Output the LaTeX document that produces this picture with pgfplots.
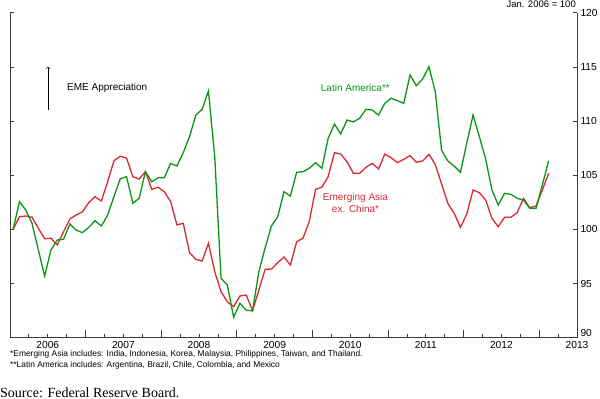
\documentclass[border=0pt]{standalone}
\usepackage{fontspec}
\setmainfont{Liberation Sans}
\newfontfamily\seriffont{Liberation Serif}
\usepackage{pgfplots}
\pgfplotsset{compat=1.18}
\usepackage{pgfplotstable}
\definecolor{lagreen}{RGB}{10,150,20}
\definecolor{asred}{RGB}{220,40,50}
\definecolor{axgray}{RGB}{60,60,60}

% Latin America (m = months since Jan 2006)
\pgfplotstableread{
m v
0 100.00
1 102.56
2 101.79
3 100.56
4 98.10
5 95.70
6 98.10
7 99.02
8 99.09
9 100.50
10 99.94
11 99.70
12 100.19
13 100.80
14 100.31
15 101.33
16 103.02
17 104.67
18 104.87
19 102.41
20 102.87
21 105.33
22 104.40
23 104.77
24 104.77
25 106.10
26 105.85
27 107.08
28 108.56
29 110.56
30 111.09
31 112.78
32 106.71
33 95.48
34 94.87
35 91.88
36 93.18
37 92.53
38 92.49
39 96.09
40 98.30
41 100.31
42 101.17
43 103.48
44 103.08
45 105.27
46 105.33
47 105.64
48 106.16
49 105.64
50 108.41
51 109.73
52 108.81
53 110.10
54 109.92
55 110.26
56 111.09
57 111.02
58 110.56
59 111.64
60 112.11
61 111.88
62 111.64
63 114.26
64 113.27
65 113.89
66 115.02
67 112.71
68 107.33
69 106.32
70 105.85
71 105.27
72 107.95
73 110.56
74 108.56
75 106.50
76 103.64
77 102.25
78 103.33
79 103.24
80 102.87
81 102.71
82 101.95
83 101.95
84 104.10
85 106.34
}\latam

% Emerging Asia ex. China
\pgfplotstableread{
m v
0 100.00
1 101.17
2 101.24
3 101.12
4 100.10
5 99.14
6 99.18
7 98.56
8 99.79
9 100.96
10 101.33
11 101.63
12 102.47
13 103.02
14 102.62
15 104.40
16 106.34
17 106.75
18 106.59
19 104.87
20 104.65
21 105.33
22 103.70
23 103.89
24 103.48
25 102.56
26 100.41
27 100.56
28 97.85
29 97.24
30 97.08
31 98.72
32 96.09
33 94.25
34 93.32
35 92.86
36 93.85
37 93.94
38 92.49
39 94.40
40 96.32
41 96.34
42 96.93
43 97.45
44 96.71
45 98.86
46 99.18
47 100.71
48 103.70
49 103.89
50 104.87
51 107.08
52 106.96
53 106.25
54 105.18
55 105.18
56 105.73
57 106.10
58 105.58
59 106.96
60 106.62
61 106.16
62 106.47
63 106.81
64 106.20
65 106.32
66 106.93
67 106.01
68 104.19
69 102.41
70 101.49
71 100.19
72 101.42
73 103.64
74 103.39
75 102.71
76 101.02
77 100.25
78 101.12
79 101.12
80 101.54
81 102.87
82 102.00
83 102.16
84 103.64
85 105.18
}\asia

\begin{document}
\begin{tikzpicture}[x=1pt,y=1pt]
\useasboundingbox (0,0) rectangle (600,399);
\begin{axis}[
  scale only axis,
  width=567pt, height=324.9pt,
  at={(10pt,61.3pt)}, anchor=south west,
  xmin=2006, xmax=2013.5, ymin=90, ymax=120,
  axis x line*=bottom, axis y line*=box,
  axis line style={axgray, line width=0.9pt},
  tick style={axgray, line width=0.8pt},
  tick align=inside,
  major tick length=4.5pt,
  minor tick length=3.3pt,
  xtick={2006.5,2007.5,2008.5,2009.5,2010.5,2011.5,2012.5,2013.5},
  xticklabels={2006,2007,2008,2009,2010,2011,2012,2013},
  major x tick style={draw=none},
  minor xtick={2006.25,2006.5,...,2013.5},
  extra x ticks={2007,2008,2009,2010,2011,2012,2013},
  extra x tick labels={},
  extra x tick style={major tick length=7.7pt, major x tick style={draw=axgray}},
  ytick={90,95,100,105,110,115,120},
  yticklabels={\raisebox{9pt}{90},95,100,105,110,115,120},
  yticklabel pos=right,
  tick label style={font=\fontsize{10.2}{12}\selectfont, black},
  xticklabel style={yshift=-0.3pt},
  yticklabel style={xshift=0.8pt, inner sep=2.5pt},
  /pgf/number format/assume math mode=true,
  clip=false,
]
\addplot[asred, line width=1.3pt] table[x expr=2006+(\thisrow{m}+0.5)/12, y=v] {\asia};
\addplot[lagreen, line width=1.3pt] table[x expr=2006+(\thisrow{m}+0.5)/12, y=v] {\latam};
\end{axis}
\node[anchor=east, inner sep=0, font=\fontsize{9.5}{11}\selectfont] at (576,394.5) {Jan. 2006 = 100};
\draw[->, line width=0.6pt] (47.8,289) -- (47.8,332.3);
\node[anchor=west, inner sep=0, font=\fontsize{10}{12}\selectfont] at (67,310.7) {EME Appreciation};
\node[anchor=west, inner sep=0, text=lagreen, font=\fontsize{10}{12}\selectfont] at (320.7,311) {Latin America**};
\node[align=center, inner sep=0, text=asred, font=\fontsize{10}{12.5}\selectfont] at (355.5,196) {Emerging Asia\\ex. China*};
\node[anchor=west, inner sep=0, font=\fontsize{8.4}{10}\selectfont] at (10,44.2) {*Emerging Asia includes: India, Indonesia, Korea, Malaysia, Philippines, Taiwan, and Thailand.};
\node[anchor=west, inner sep=0, font=\fontsize{8.4}{10}\selectfont] at (10,33.4) {**Latin America includes: Argentina, Brazil, Chile, Colombia, and Mexico};
\node[anchor=west, inner sep=0, font=\seriffont\fontsize{14}{16}\selectfont] at (0,6.5) {Source: Federal Reserve Board.};
\end{tikzpicture}
\end{document}
